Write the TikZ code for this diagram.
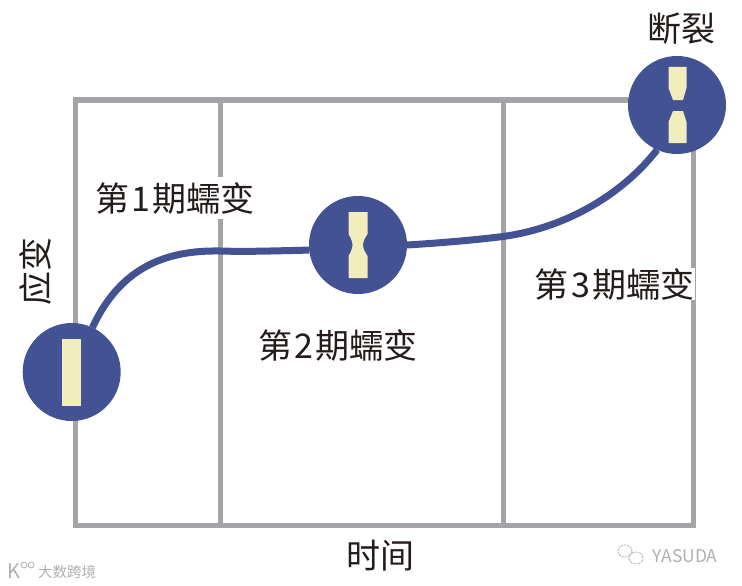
\documentclass[tikz,border=0pt]{standalone}
\usepackage{fontspec}
\setmainfont{Noto Sans CJK SC}
\definecolor{ringblue}{RGB}{66,82,146}
\definecolor{barcream}{RGB}{241,237,189}
\definecolor{gridgray}{RGB}{163,164,168}
\definecolor{inkblack}{RGB}{35,28,26}
\definecolor{markgray}{RGB}{175,175,175}
\usetikzlibrary{calc}
\newcommand{\stagetext}[1]{第\kern2.5pt #1\kern2.5pt 期蠕变}
\tikzset{
  gridline/.style={draw=gridgray, line width=5pt},
  curveline/.style={draw=ringblue, line width=7pt},
  ring/.style={circle, fill=ringblue, minimum size=98pt, inner sep=0pt, outer sep=0pt},
  testbar/.style={fill=barcream},
  caption/.style={text=inkblack, font=\fontsize{34}{40}\selectfont, inner sep=1pt},
  stage/.style={caption, fill=white, inner ysep=5pt},
  wmark/.style={text=markgray, inner sep=0pt}
}
\begin{document}
\begin{tikzpicture}[x=1pt,y=-1pt]
  \useasboundingbox (0,0) rectangle (742,586);

  \node (frame) [gridline, minimum width=618pt, minimum height=425pt, inner sep=0pt, outer sep=0pt] at (384,312.5) {};
  \foreach \x in {220,503}
    \draw [gridline] (frame.north -| \x,0) -- (frame.south -| \x,0);

  \node (start) [ring] at (71.7,372) {};
  \node (neck) [ring] at (358,245) {};
  \node (broken) [ring] at (677,105) {};
  \coordinate (knee1) at (220,251);
  \coordinate (knee2) at (503,236.5);

  \draw [curveline] (start.65) .. controls (120,268) and (165,250) .. (knee1) .. controls (250,252) and (285,250.5) .. (neck.186);
  \draw [curveline] (neck.east) .. controls (440,243) and (475,240) .. (knee2) .. controls (565,228) and (622,195) .. (broken.246);

  % test pieces
  \fill [testbar] (62,339) rectangle (81,406);
  \begin{scope}[shift={(neck.center)}]
    \fill [testbar] (-9.5,-33) -- (9.5,-33) -- (9.5,-11) .. controls (7,-7) and (5,-4) .. (5,0) .. controls (5,4) and (7,7) .. (9.5,11) -- (9.5,33) -- (-9.5,33) -- (-9.5,11) .. controls (-7,7) and (-5.5,3) .. (-5.5,0) .. controls (-5.5,-3) and (-7,-7) .. (-9.5,-11) -- cycle;
  \end{scope}
  \begin{scope}[shift={(broken.center)}]
    \fill [testbar] (-8.5,-38) -- (9.5,-38) -- (9.5,-17) -- (6,-5) -- (-4,-5) -- (-8.5,-17) -- cycle;
    \fill [testbar] (-4,6) -- (6,6) -- (9.5,17) -- (9.5,38) -- (-8.5,38) -- (-8.5,17) -- cycle;
  \end{scope}

  \node (stage1) [stage] at (175,198) {\stagetext{1}};
  \node (stage2) [caption] at (338,345) {\stagetext{2}};
  \node (stage3) [stage, inner ysep=0pt] at (614.5,284) {\stagetext{3}};
  \node (strain) [caption, rotate=90] at (36,271) {应变};
  \node (rupture) [caption] at (681,29) {断裂};
  \node (time) [caption] at (380,556) {时间};

  % watermarks
  \node (source) [wmark, font=\fontsize{14.5}{16}\selectfont] at (67,572) {大数跨境};
  \node (klogo) [wmark, font=\fontsize{20}{20}\selectfont] at (14,571) {K};
  \foreach \x in {24,31}
    \draw [markgray, line width=.8pt] (\x,565) circle[radius=3pt];
  \node (owner) [wmark, font=\fontsize{17.5}{18}\selectfont] at (685,556) {YASUDA};
  \draw [markgray, line width=.8pt, dash pattern=on 2pt off 1pt] (625,551) ellipse[x radius=7pt, y radius=6pt];
  \draw [markgray, line width=.8pt, dash pattern=on 3pt off 1pt] (636,558) ellipse[x radius=7pt, y radius=6pt];
\end{tikzpicture}
\end{document}
